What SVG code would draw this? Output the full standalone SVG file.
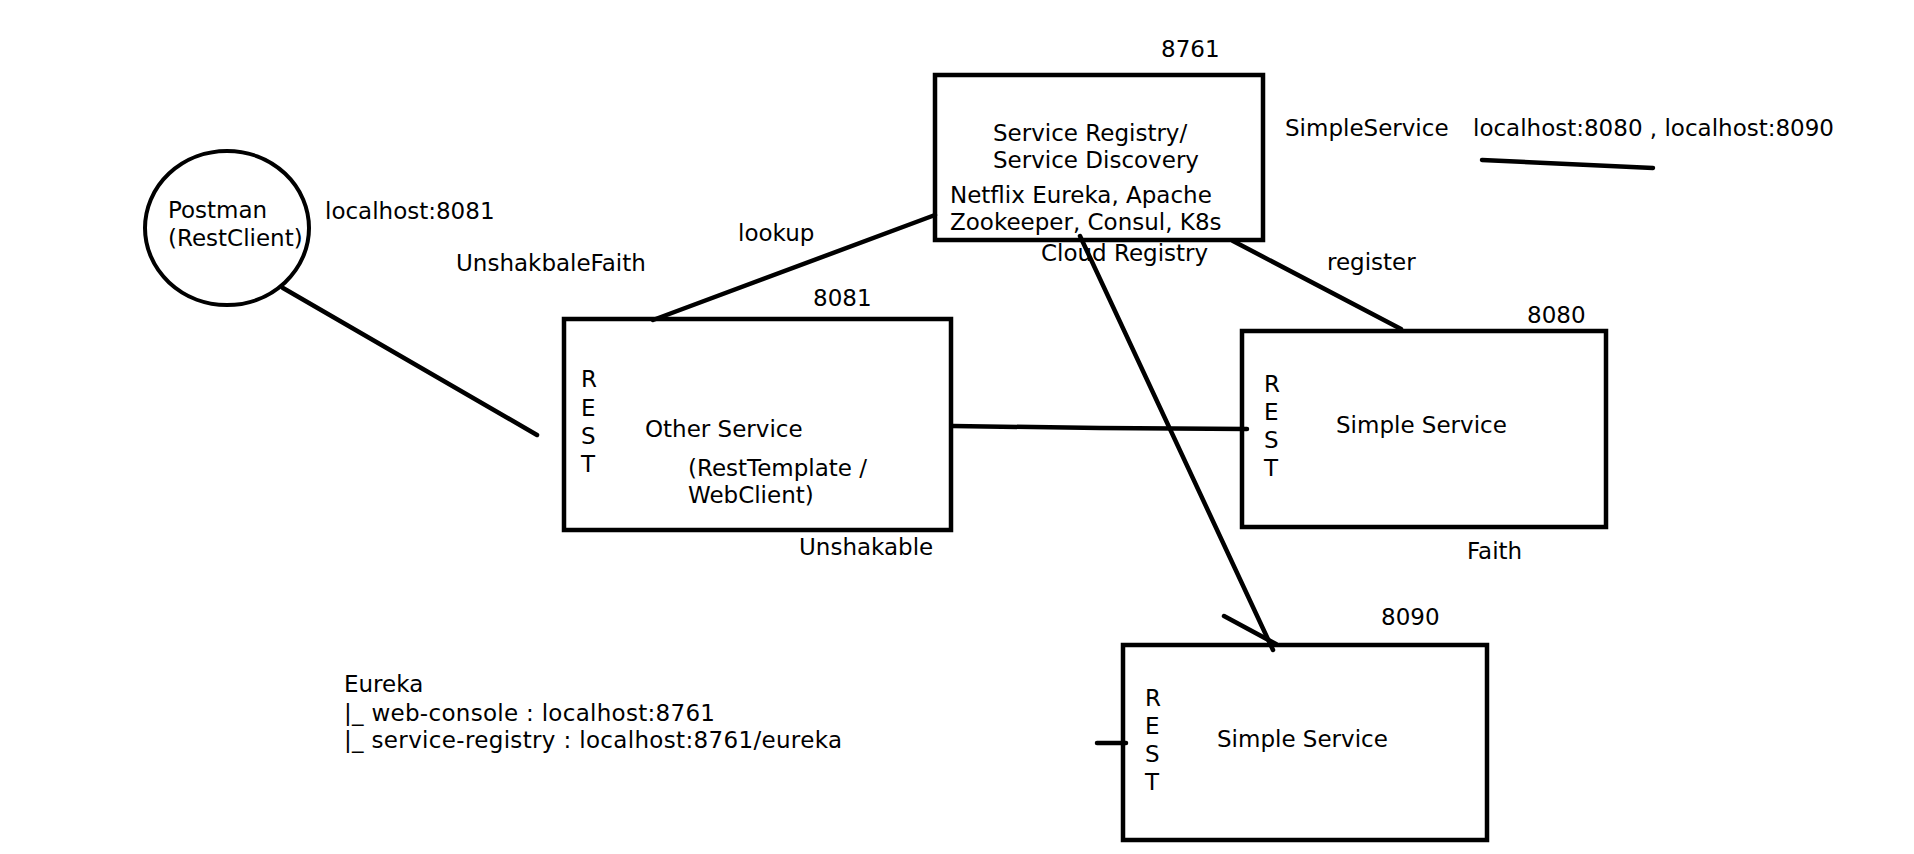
<svg xmlns="http://www.w3.org/2000/svg" width="1914" height="854" viewBox="0 0 1914 854">
<style>
text{font-family:"DejaVu Sans","Verdana",sans-serif;font-size:23px;fill:#000}
.box{fill:none;stroke:#000;stroke-width:4.5}
.ln{fill:none;stroke:#000;stroke-width:4.5;stroke-linecap:round;stroke-linejoin:round}
</style>
<rect x="0" y="0" width="1914" height="854" fill="#fff"/>
<g id="connectors">
<line class="ln" x1="283" y1="288" x2="537" y2="435"/>
<line class="ln" x1="653" y1="320" x2="935" y2="215"/>
<line class="ln" x1="1233" y1="241" x2="1401" y2="329"/>
<polyline class="ln" points="953,426 1100,428 1247,429"/>
<line class="ln" x1="1080" y1="236" x2="1273" y2="650"/>
<line class="ln" x1="1224" y1="616" x2="1276" y2="644"/>
<line class="ln" x1="1097" y1="743" x2="1126" y2="743"/>
<line class="ln" x1="1482" y1="160" x2="1653" y2="168"/>
</g>
<g id="registry">
<rect class="box" x="935" y="75" width="328" height="165"/>
<text x="1161" y="57">8761</text>
<text x="993" y="141">Service Registry/</text>
<text x="993" y="168">Service Discovery</text>
<text x="950" y="203">Netflix Eureka, Apache</text>
<text x="950" y="230">Zookeeper, Consul, K8s</text>
<text x="1041" y="261">Cloud Registry</text>
</g>
<g id="registry-note">
<text x="1285" y="136">SimpleService</text>
<text x="1473" y="136">localhost:8080 , localhost:8090</text>
</g>
<g id="postman">
<ellipse cx="227" cy="228" rx="82" ry="77" fill="none" stroke="#000" stroke-width="4"/>
<text x="168" y="218">Postman</text>
<text x="168" y="246">(RestClient)</text>
</g>
<g id="labels">
<text x="325" y="219">localhost:8081</text>
<text x="456" y="271">UnshakbaleFaith</text>
<text x="738" y="241">lookup</text>
<text x="1327" y="270">register</text>
</g>
<g id="other-service">
<rect class="box" x="564" y="319" width="387" height="211"/>
<text x="813" y="306">8081</text>
<text x="581" y="387">R</text>
<text x="581" y="416">E</text>
<text x="581" y="444">S</text>
<text x="581" y="472">T</text>
<text x="645" y="437">Other Service</text>
<text x="688" y="476">(RestTemplate /</text>
<text x="688" y="503">WebClient)</text>
<text x="799" y="555">Unshakable</text>
</g>
<g id="simple-service-8080">
<rect class="box" x="1242" y="331" width="364" height="196"/>
<text x="1527" y="323">8080</text>
<text x="1264" y="392">R</text>
<text x="1264" y="420">E</text>
<text x="1264" y="448">S</text>
<text x="1264" y="476">T</text>
<text x="1336" y="433">Simple Service</text>
<text x="1467" y="559">Faith</text>
</g>
<g id="simple-service-8090">
<rect class="box" x="1123" y="645" width="364" height="195"/>
<text x="1381" y="625">8090</text>
<text x="1145" y="706">R</text>
<text x="1145" y="734">E</text>
<text x="1145" y="762">S</text>
<text x="1145" y="790">T</text>
<text x="1217" y="747">Simple Service</text>
</g>
<g id="eureka-note">
<text x="344" y="692">Eureka</text>
<text x="344" y="721" textLength="371" lengthAdjust="spacing">|_ web-console : localhost:8761</text>
<text x="344" y="748" textLength="498" lengthAdjust="spacing">|_ service-registry : localhost:8761/eureka</text>
</g>
</svg>
